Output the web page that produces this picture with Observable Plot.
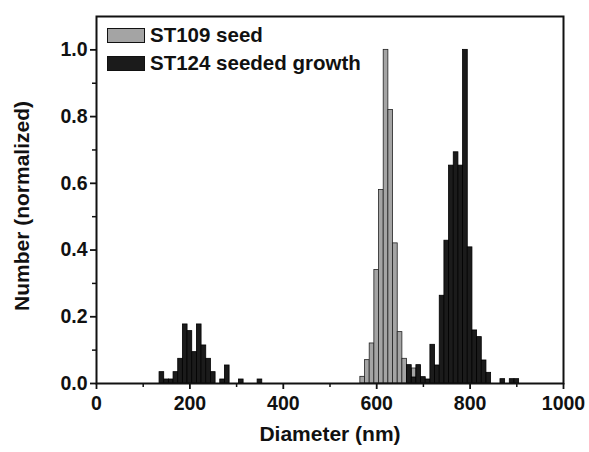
<!DOCTYPE html>
<html>
<head>
<meta charset="utf-8">
<script src="https://cdn.jsdelivr.net/npm/d3@7"></script>
<script src="https://cdn.jsdelivr.net/npm/@observablehq/plot@0.6"></script>
<style>
  html, body { margin: 0; padding: 0; background: #fff; }
  #wrap { position: relative; width: 589px; height: 452px; font-family: "Liberation Sans", Arial, sans-serif; font-weight: bold; }
  #legend { position: absolute; left: 107px; top: 21px; font-size: 20.5px; color: #111; }
  .row { display: flex; align-items: center; height: 28px; }
  .sw { width: 38px; height: 15px; border: 1.5px solid #111; margin-right: 5px; box-sizing: border-box; }
</style>
</head>
<body>
<div id="wrap"><div id="legend"></div></div>
<script>
// Bin centers (nm, 10 nm bins) and normalized counts
const seedLabel = "ST109 seed";
const seedCenters = [570, 580, 590, 600, 610, 620, 630, 640, 650, 660, 670, 680];
const seedValues  = [0.02, 0.07, 0.12, 0.34, 0.58, 1.0, 0.82, 0.42, 0.154, 0.074, 0.04, 0.045];

const growthLabel = "ST124 seeded growth";
const growthCenters = [140, 150, 160, 170, 180, 190, 200, 210, 220, 230, 240, 250, 270, 280, 310, 350,
                       670, 680, 690, 700, 710, 720, 730, 740, 750, 760, 770, 780, 790, 800, 810, 820, 830, 840, 870, 890, 900];
const growthValues  = [0.034, 0.012, 0.012, 0.034, 0.074, 0.177, 0.157, 0.094, 0.177, 0.114, 0.074, 0.034, 0.012, 0.054, 0.012, 0.012,
                       0.055, 0.018, 0.055, 0.019, 0.012, 0.116, 0.054, 0.263, 0.428, 0.653, 0.693, 0.653, 1.0, 0.408, 0.159, 0.139, 0.069, 0.032, 0.013, 0.013, 0.013];

const binWidth = 10;
const xTicks = [0, 200, 400, 600, 800, 1000];
const xMinor = [100, 300, 500, 700, 900];
const yTicks = [0, 0.2, 0.4, 0.6, 0.8, 1.0];
const yMinor = [0.1, 0.3, 0.5, 0.7, 0.9];

const seedColor = "#a4a4a4";
const growthColor = "#1b1b1b";

const seed = seedCenters.map((c, i) => ({x1: c - binWidth / 2, x2: c + binWidth / 2, v: seedValues[i]}));
const growth = growthCenters.map((c, i) => ({x1: c - binWidth / 2, x2: c + binWidth / 2, v: growthValues[i]}));

const chart = Plot.plot({
  width: 589,
  height: 452,
  marginLeft: 96,
  marginRight: 26,
  marginTop: 16,
  marginBottom: 69,
  style: {fontFamily: "'Liberation Sans', Arial, sans-serif", fontWeight: "bold", fontSize: "19px", color: "#111", background: "white"},
  x: {domain: [0, 1000]},
  y: {domain: [0, 1.1]},
  marks: [
    Plot.rectY(seed, {x1: "x1", x2: "x2", y: "v", fill: seedColor, stroke: "#222", strokeWidth: 0.8}),
    Plot.rectY(growth, {x1: "x1", x2: "x2", y: "v", fill: growthColor, stroke: "#000", strokeWidth: 0.8}),
    Plot.axisX({ticks: xTicks, tickSize: 6, tickPadding: 7, tickFormat: d => String(d), stroke: "#111", strokeWidth: 1.8, fontSize: 19.5, fontWeight: "bold", label: null}),
    Plot.axisX({ticks: xMinor, tickSize: 4, tickFormat: () => "", stroke: "#111", strokeWidth: 1.5, label: null}),
    Plot.axisY({ticks: yTicks, tickSize: 6, tickPadding: 3, tickFormat: d3.format(".1f"), stroke: "#111", strokeWidth: 1.8, fontSize: 19.5, fontWeight: "bold", label: null}),
    Plot.axisY({ticks: yMinor, tickSize: 4, tickFormat: () => "", stroke: "#111", strokeWidth: 1.5, label: null}),
    Plot.frame({stroke: "#111", strokeWidth: 2}),
    Plot.text(["Diameter (nm)"], {frameAnchor: "bottom", dy: 57, fontSize: 21, fontWeight: "bold", fill: "#111"}),
    Plot.text(["Number (normalized)"], {frameAnchor: "left", textAnchor: "middle", dx: -74, dy: 6, rotate: -90, fontSize: 21, fontWeight: "bold", fill: "#111"})
  ]
});
document.getElementById("wrap").prepend(chart);

const legend = document.getElementById("legend");
[[seedLabel, seedColor], [growthLabel, growthColor]].forEach(([label, color]) => {
  const row = document.createElement("div");
  row.className = "row";
  const sw = document.createElement("div");
  sw.className = "sw";
  sw.style.background = color;
  const t = document.createElement("span");
  t.textContent = label;
  row.append(sw, t);
  legend.append(row);
});
</script>
</body>
</html>
